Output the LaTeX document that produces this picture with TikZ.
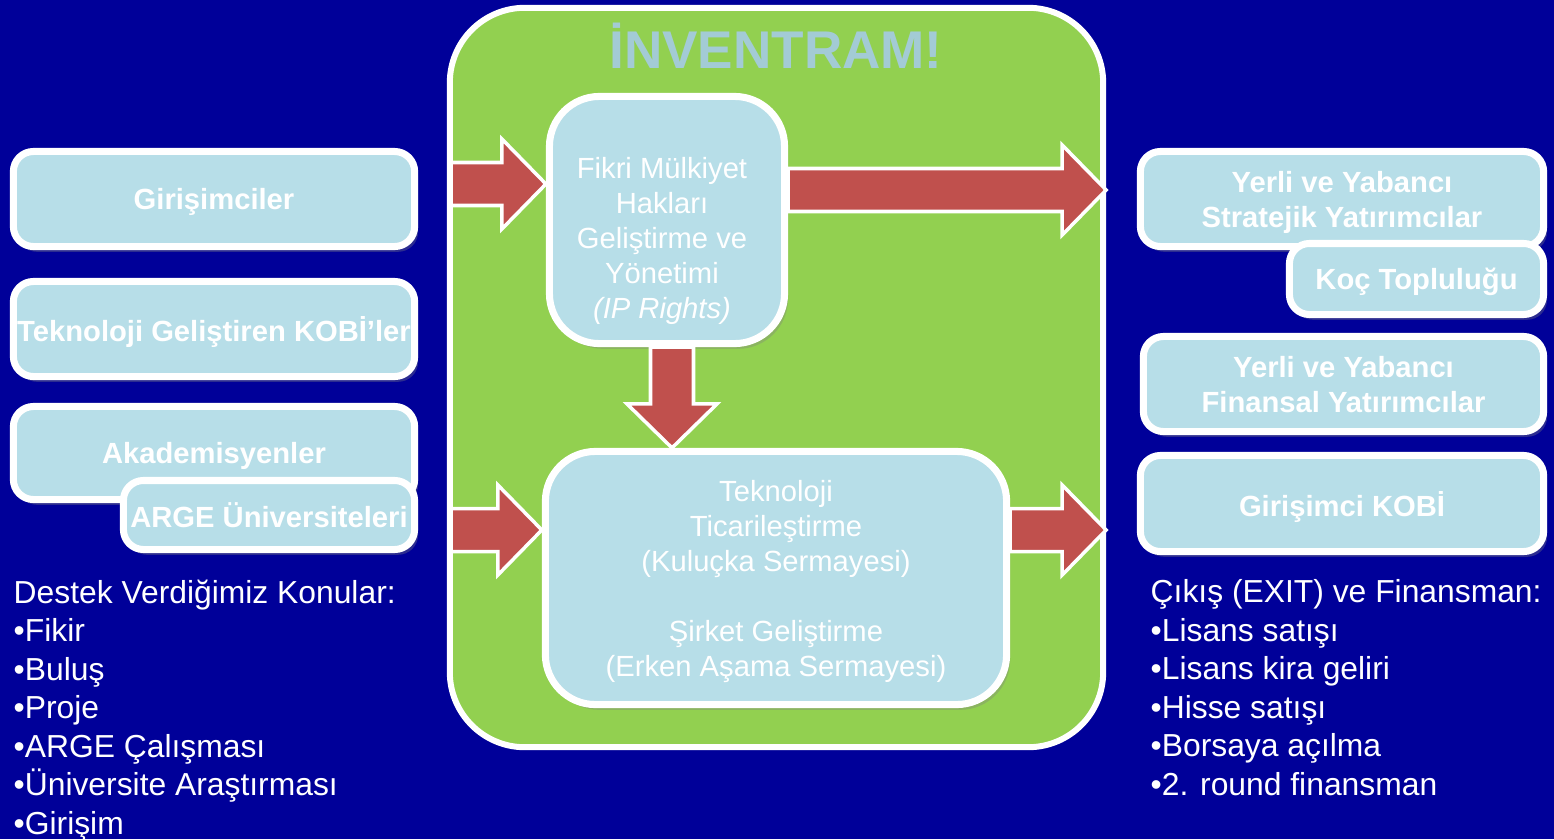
\documentclass[tikz,border=0pt]{standalone}
\usepackage{fontspec}
\setmainfont{Liberation Sans}
\usetikzlibrary{calc,shadows}

\definecolor{fundo}{HTML}{000099}
\definecolor{verde}{HTML}{92D050}
\definecolor{azulclaro}{HTML}{B7DEE8}
\definecolor{vermelho}{HTML}{C0504D}
\definecolor{titulo}{HTML}{A3CBD5}

% --- parâmetros das setas largas (em px) ---
\def\haste{21.5} % meia largura da haste
\def\abas{45}    % meia largura da cabeça
\def\cab{44}     % comprimento da cabeça

% seta larga para a direita: de #1 até #2
\newcommand\setadir[2]{%
  \draw[seta] ($(#1)+(0,-\haste)$) -- ($(#2)+(-\cab,-\haste)$) -- ($(#2)+(-\cab,-\abas)$) -- (#2)
    -- ($(#2)+(-\cab,\abas)$) -- ($(#2)+(-\cab,\haste)$) -- ($(#1)+(0,\haste)$) -- cycle;}
% seta larga para baixo (y cresce para baixo)
\newcommand\setabaixo[2]{%
  \draw[seta] ($(#1)+(-\haste,0)$) -- ($(#2)+(-\haste,-\cab)$) -- ($(#2)+(-\abas,-\cab)$) -- (#2)
    -- ($(#2)+(\abas,-\cab)$) -- ($(#2)+(\haste,-\cab)$) -- ($(#1)+(\haste,0)$) -- cycle;}

\begin{document}
\begin{tikzpicture}[x=0.01cm, y=-0.01cm,
  caixa/.style={draw=white, line width=2pt, fill=azulclaro, rounded corners=0.2cm,
    text=white, font=\fontsize{8.3}{9.96}\selectfont\bfseries, align=center, inner sep=0pt,
    text depth=0pt, drop shadow={opacity=0.35, shadow xshift=1pt, shadow yshift=-1.5pt}},
  bloco/.style={caixa, rounded corners=0.5cm, font=\fontsize{8.3}{9.96}\selectfont},
  seta/.style={draw=white, line width=1pt, fill=vermelho, line join=miter},
  lista/.style={text=white, font=\fontsize{9.05}{10.95}\selectfont, align=left,
    anchor=north west, inner sep=0pt}]

  % fundo
  \useasboundingbox (0,0) rectangle (1554,839);
  \fill[fundo] (0,0) rectangle (1554,839);

  % caixa verde principal
  \node[draw=white, line width=1.7pt, fill=verde, rounded corners=0.75cm,
    minimum width=6.53cm, minimum height=7.39cm] (main) at (776.5,377.5) {};
  \node[text=titulo, font=\fontsize{15.1}{18}\selectfont\bfseries, anchor=base,
    inner sep=0pt] (titulo) at (776,68) {İNVENTRAM!};

  % blocos internos
  \node[bloco, minimum width=2.35cm, minimum height=2.47cm] (ip) at (667,220) {};
  \node[text=white, font=\fontsize{8.3}{9.96}\selectfont, align=center, inner sep=0pt]
    (iptexto) at ($(ip.center)+(-5,21)$)
    {Fikri Mülkiyet\\Hakları\\Geliştirme ve\\Yönetimi\\\textit{(IP Rights)}};
  \node[bloco, minimum width=4.61cm, minimum height=2.53cm] (com) at (776,578)
    {Teknoloji\\Ticarileştirme\\(Kuluçka Sermayesi)\\[9.96pt]Şirket Geliştirme\\(Erken Aşama Sermayesi)};

  % caixas da esquerda
  \node[caixa, minimum width=4.01cm, minimum height=0.95cm] (girisim) at (214,199) {Girişimciler};
  \node[caixa, minimum width=4.01cm, minimum height=0.95cm] (kobi) at (214,329) {Teknoloji Geliştiren KOBİ’ler};
  \node[caixa, minimum width=4.01cm, minimum height=0.93cm] (akad) at (214,453) {Akademisyenler};
  \node[caixa, minimum width=2.91cm, minimum height=0.69cm] (arge) at (269,515) {ARGE Üniversiteleri};

  % caixas da direita
  \node[caixa, minimum width=4.03cm, minimum height=0.95cm] (strat) at (1342,199) {Yerli ve Yabancı\\Stratejik Yatırımcılar};
  \node[caixa, minimum width=2.54cm, minimum height=0.71cm] (koc) at (1416.5,279) {Koç Topluluğu};
  \node[caixa, minimum width=4.00cm, minimum height=0.95cm] (finan) at (1343.5,384) {Yerli ve Yabancı\\Finansal Yatırımcılar};
  \node[caixa, minimum width=4.03cm, minimum height=0.96cm] (gkobi) at (1342,503.5) {Girişimci KOBİ};

  % --- setas ---
  \coordinate (e1) at (451,184);
  \coordinate (s1) at (ip.west |- e1);
  \setadir{e1}{s1}
  \coordinate (e2) at (ip.east |- 0,190);
  \coordinate (s2) at (main.east |- e2);
  \setadir{e2}{s2}
  \coordinate (d1) at ($(ip.south)+(5,0)$);
  \coordinate (d2) at (d1 |- com.north);
  \setabaixo{d1}{d2}
  \coordinate (e3) at (451,530);
  \coordinate (s3) at (com.west |- e3);
  \setadir{e3}{s3}
  \coordinate (e4) at (com.east |- e3);
  \coordinate (s4) at (main.east |- e3);
  \setadir{e4}{s4}

  % listas de baixo
  \node[lista] (destek) at (13,579)
    {Destek Verdiğimiz Konular:\\•Fikir\\•Buluş\\•Proje\\•ARGE Çalışması\\•Üniversite Araştırması\\•Girişim};
  \node[lista] (cikis) at (1150,579)
    {Çıkış (EXIT) ve Finansman:\\•Lisans satışı\\•Lisans kira geliri\\•Hisse satışı\\•Borsaya açılma\\•2. round finansman};
\end{tikzpicture}
\end{document}
